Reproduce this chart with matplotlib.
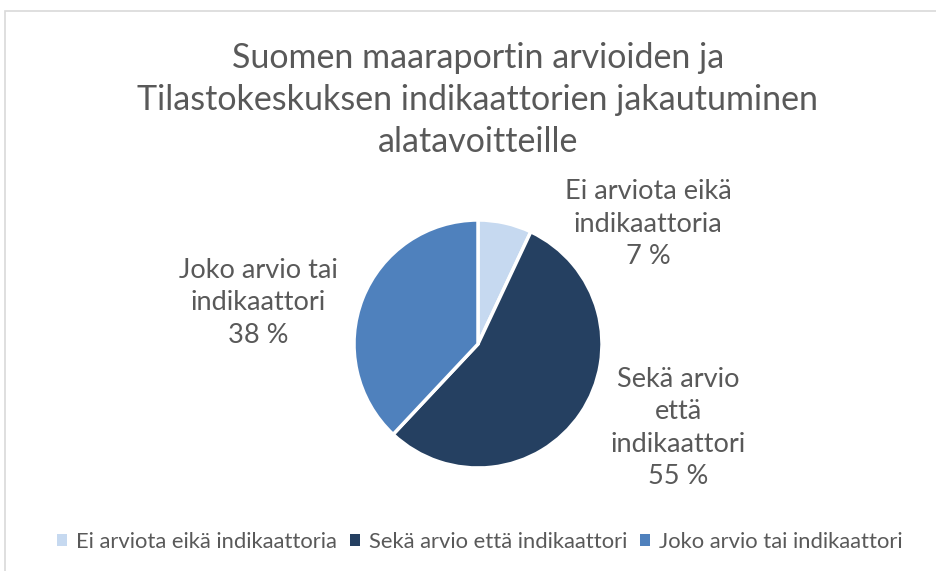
import matplotlib
matplotlib.use("Agg")
import matplotlib.pyplot as plt
from matplotlib.patches import Rectangle

categories = ["Ei arviota eikä indikaattoria", "Sekä arvio että indikaattori", "Joko arvio tai indikaattori"]
label_texts = ["Ei arviota eikä\nindikaattoria", "Sekä arvio\nettä\nindikaattori", "Joko arvio tai\nindikaattori"]
values = [7, 55, 38]
colors = ["#C6D9F0", "#254061", "#4F81BD"]
title = "Suomen maaraportin arvioiden ja\nTilastokeskuksen indikaattorien jakautuminen\nalatavoitteille"

plt.rcParams['font.family'] = ['Lato', 'DejaVu Sans']
W, H = 936, 571
fig = plt.figure(figsize=(W/100, H/100), dpi=100)
fig.patch.set_facecolor("white")

# outer border
fig.add_artist(Rectangle((4.5/W, -0.05), 1.1, 1 - 10.5/H + 0.05, transform=fig.transFigure,
                         fill=False, edgecolor="#D9D9D9", linewidth=1.2))

txtc = "#595959"
fig.text(478/W, 1 - 100/H, title, ha="center", va="center", fontsize=24.5,
         color=txtc, linespacing=1.4)

cx, cy, r = 478, 344, 124
ax = fig.add_axes([(cx - r)/W, (H - cy - r)/H, 2*r/W, 2*r/H])
ax.pie(values, colors=colors, startangle=90, counterclock=False, radius=1,
       wedgeprops=dict(edgecolor="white", linewidth=2.5))
ax.set_xlim(-1.0, 1.0)
ax.set_ylim(-1.0, 1.0)
ax.set_aspect("equal")
ax.axis("off")

label_pos = [(648, 224), (678, 428), (258, 303)]
for (lx, ly), t, v in zip(label_pos, label_texts, values):
    fig.text(lx/W, 1 - ly/H, f"{t}\n{v} %", ha="center", va="center", fontsize=19.5,
             color=txtc, linespacing=1.36)

handles = [Rectangle((0, 0), 1, 1, facecolor=c, edgecolor="none") for c in colors]
leg = fig.legend(handles, categories, loc="center", bbox_to_anchor=(480/W, 1 - 542/H),
                 ncol=3, frameon=False, fontsize=15.8, handlelength=0.45, handleheight=0.45,
                 handletextpad=0.4, columnspacing=0.6, labelcolor=txtc)

fig.savefig("out.png", dpi=100, facecolor="white")
